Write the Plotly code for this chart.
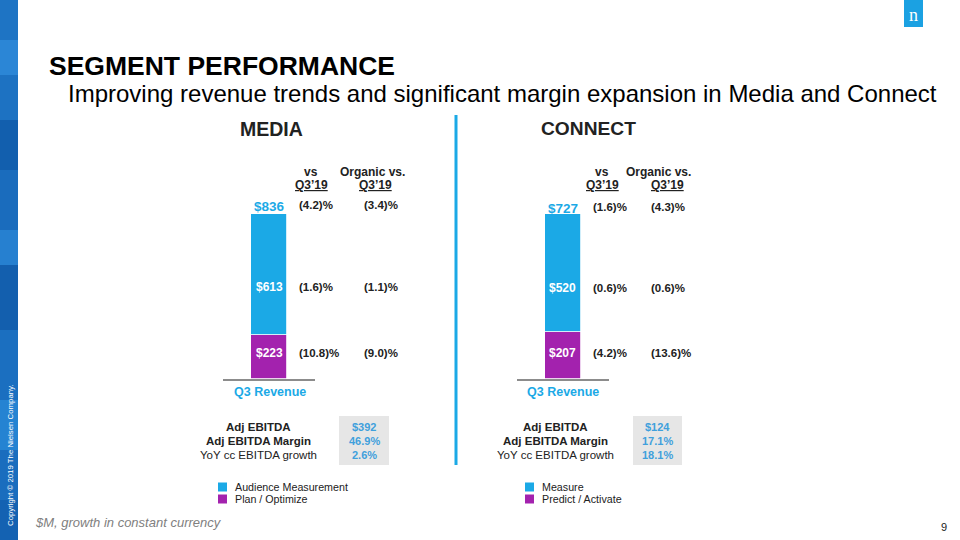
import plotly.graph_objects as go

# ---------------- data ----------------
media_segments = ["Plan / Optimize", "Audience Measurement"]
media_values = [223, 613]
media_total = 836
media_vs = ["(4.2)%", "(1.6)%", "(10.8)%"]
media_org = ["(3.4)%", "(1.1)%", "(9.0)%"]

connect_segments = ["Predict / Activate", "Measure"]
connect_values = [207, 520]
connect_total = 727
connect_vs = ["(1.6)%", "(0.6)%", "(4.2)%"]
connect_org = ["(4.3)%", "(0.6)%", "(13.6)%"]

ebitda_labels = ["Adj EBITDA", "Adj EBITDA Margin", "YoY cc EBITDA growth"]
media_ebitda = ["$392", "46.9%", "2.6%"]
connect_ebitda = ["$124", "17.1%", "18.1%"]

BLUE = "#1BA9E6"
PURPLE = "#A322AE"
seg_colors = [PURPLE, BLUE]
FONT = "Arial, Liberation Sans, sans-serif"

W, H = 960, 540


def px(x):
    return x / W


def py(y):
    return 1 - y / H


fig = go.Figure()

for name, val, col in zip(media_segments, media_values, seg_colors):
    fig.add_trace(go.Bar(x=[0], y=[val], name=name, marker=dict(color=col, line=dict(color="white", width=0.8)),
                         width=1.0, xaxis="x", yaxis="y", showlegend=False, hoverinfo="skip"))
for name, val, col in zip(connect_segments, connect_values, seg_colors):
    fig.add_trace(go.Bar(x=[0], y=[val], name=name, marker=dict(color=col, line=dict(color="white", width=0.8)),
                         width=1.0, xaxis="x2", yaxis="y2", showlegend=False, hoverinfo="skip"))

ydom = [py(379), py(214)]
xcommon = dict(range=[-1.25, 1.25], showline=True, linecolor="#8c8c8c", linewidth=2,
               showticklabels=False, showgrid=False, zeroline=False, ticks="", fixedrange=True)
fig.update_layout(
    barmode="stack",
    width=W, height=H,
    margin=dict(l=0, r=0, t=0, b=0),
    paper_bgcolor="white", plot_bgcolor="rgba(0,0,0,0)",
    font=dict(family=FONT, color="#000"),
    xaxis=dict(domain=[px(223), px(315)], anchor="y", **xcommon),
    yaxis=dict(domain=ydom, range=[0, media_total], visible=False, anchor="x"),
    xaxis2=dict(domain=[px(517), px(609)], anchor="y2", **xcommon),
    yaxis2=dict(domain=ydom, range=[0, connect_total], visible=False, anchor="x2"),
    bargap=0,
)

ann = []


def A(x, y, text, size, color="#000", bold=False, xanchor="center", italic=False, angle=0, family=FONT):
    t = text
    if bold:
        t = "<b>" + t + "</b>"
    if italic:
        t = "<i>" + t + "</i>"
    ann.append(dict(x=px(x), y=py(y), xref="paper", yref="paper", text=t, showarrow=False,
                    xanchor=xanchor, yanchor="middle", textangle=angle,
                    font=dict(size=size, color=color, family=family)))


# Titles
A(47, 66, "SEGMENT PERFORMANCE", 26.5, bold=True, xanchor="left")
A(66, 94, "Improving revenue trends and significant margin expansion in Media and Connect", 24, xanchor="left")
A(271, 129, "MEDIA", 19.5, color="#222", bold=True)
A(588, 128, "CONNECT", 19.2, color="#222", bold=True)

# Column headers and growth values
row_y_media = [205, 287, 353]
row_y_connect = [207, 288, 353]
panels = [
    dict(vs=media_vs, org=media_org, rows=row_y_media, vsx=297, orgx=362, hvs=311, horg=372, horgq=375,
         cx=269.5, total=media_total, vals=media_values, tot_y=207, ebitda=media_ebitda,
         elab_x=258, box=(339, 389), names=media_segments, leg_x=218),
    dict(vs=connect_vs, org=connect_org, rows=row_y_connect, vsx=591, orgx=649, hvs=602, horg=658, horgq=667,
         cx=562.5, total=connect_total, vals=connect_values, tot_y=208, ebitda=connect_ebitda,
         elab_x=555, box=(633, 682), names=connect_segments, leg_x=525),
]

shapes = []
for p in panels:
    A(p["hvs"], 172, "vs", 12, color="#222", bold=True)
    A(p["hvs"], 185, "<u>Q3\u201919</u>", 12, color="#222", bold=True)
    A(p["horg"], 172, "Organic vs.", 12, color="#222", bold=True)
    A(p["horgq"], 185, "<u>Q3\u201919</u>", 12, color="#222", bold=True)
    for v, o, y in zip(p["vs"], p["org"], p["rows"]):
        A(p["vsx"], y, v, 11.5, color="#222", bold=True, xanchor="left")
        A(p["orgx"], y, o, 11.5, color="#222", bold=True, xanchor="left")
    # bar labels
    A(p["cx"], p["tot_y"], "$%d" % p["total"], 13.5, color=BLUE, bold=True)
    A(p["cx"], p["rows"][1], "$%d" % p["vals"][1], 12, color="white", bold=True)
    A(p["cx"], p["rows"][2], "$%d" % p["vals"][0], 12, color="white", bold=True)
    A(p["cx"], 392, "Q3 Revenue", 12.5, color=BLUE, bold=True)
    # EBITDA block
    shapes.append(dict(type="rect", xref="paper", yref="paper", x0=px(p["box"][0]), x1=px(p["box"][1]),
                       y0=py(465), y1=py(416), fillcolor="#E6E6E6", line=dict(width=0), layer="below"))
    bx = (p["box"][0] + p["box"][1]) / 2
    for i, (lab, val) in enumerate(zip(ebitda_labels, p["ebitda"])):
        y = 427 + 14 * i
        A(p["elab_x"], y, lab, 11.5, color="#222", bold=(i < 2))
        A(bx, y, val, 11, color="#3FA0DC", bold=True)
    # legend (blue first, then purple)
    for j, (name, col) in enumerate([(p["names"][1], BLUE), (p["names"][0], PURPLE)]):
        y = 487 + 12 * j
        shapes.append(dict(type="rect", xref="paper", yref="paper", x0=px(p["leg_x"]), x1=px(p["leg_x"] + 9),
                           y0=py(y + 4.5), y1=py(y - 4.5), fillcolor=col, line=dict(width=0)))
        A(p["leg_x"] + 15, y, name, 10.7, color="#222", xanchor="left")

# separator line
shapes.append(dict(type="line", xref="paper", yref="paper", x0=px(456), x1=px(456), y0=py(115), y1=py(465),
                   line=dict(color="#1BA9E6", width=3)))

# left decorative strip (soft blue gradient bands)
strip = [("#1565b5", 0, 540), ("#1e74c4", 0, 40), ("#2b86d6", 40, 75), ("#1d72c2", 75, 120),
         ("#125fae", 120, 170), ("#1a6cbd", 170, 230), ("#2680d0", 230, 265), ("#135fae", 265, 330),
         ("#1b6fc0", 330, 400), ("#2583d2", 400, 450), ("#1a6dbe", 450, 500), ("#1462b2", 500, 540)]
for col, y0, y1 in strip:
    shapes.append(dict(type="rect", xref="paper", yref="paper", x0=0, x1=px(18), y0=py(y1), y1=py(y0),
                       fillcolor=col, line=dict(width=0), layer="below"))
A(10, 455, "Copyright \u00a9 2019 The Nielsen Company.", 7.8, color="white", angle=-90)

# logo
shapes.append(dict(type="rect", xref="paper", yref="paper", x0=px(904), x1=px(923), y0=py(27), y1=py(0),
                   fillcolor="#1BA1E2", line=dict(width=0)))
A(913.5, 15, "n", 18, color="white", family="Liberation Serif, DejaVu Serif, serif")

# footer
A(33, 522, "$M, growth in constant currency", 13, color="#808080", italic=True, xanchor="left")
A(944, 527, "9", 11, color="#222")

fig.update_layout(annotations=ann, shapes=shapes)
fig.write_html("out.html", config={"displayModeBar": False},
               post_script="document.body.style.margin='0';document.body.style.overflow='hidden';")
